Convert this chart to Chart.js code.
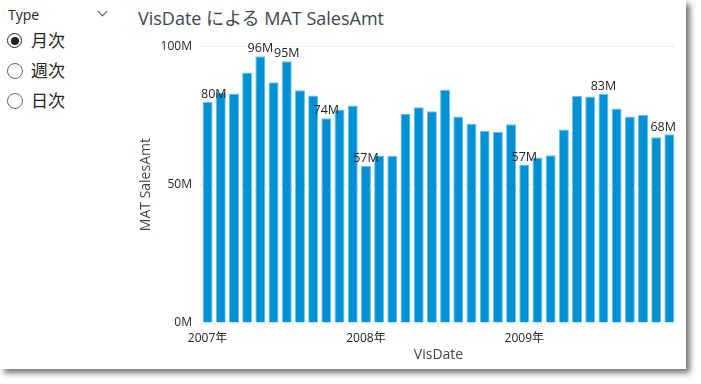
<!DOCTYPE html>
<html>
<head>
<meta charset="utf-8">
<script src="https://cdn.jsdelivr.net/npm/chart.js@4.4.1/dist/chart.umd.min.js"></script>
<style>
  body { margin: 0; background: #fff; font-family: "Open Sans", "Noto Sans CJK JP", sans-serif; }
  #card { position: absolute; left: 0; top: 0; width: 686px; height: 369px; background: #fff;
          box-shadow: 4px 4px 6px rgba(0,0,0,0.55); }
  #slicer { position: absolute; left: 8px; top: 5px; width: 110px; color: #252423; }
  #slicer .head { font-size: 14px; height: 20px; position: relative; }
  #slicer .chev { position: absolute; left: 91px; top: 3px; width: 6px; height: 6px;
                  border-right: 1.3px solid #555; border-bottom: 1.3px solid #555; transform: rotate(45deg); }
  .opt { position: relative; height: 30px; font-size: 17px; font-family: "Noto Sans CJK JP", sans-serif; }
  .opt .r { position: absolute; left: -1px; top: 8px; width: 14px; height: 14px; border: 1px solid #666;
            border-radius: 50%; background: #fff; }
  .opt .r.on { border-color: #222; border-width: 1.5px; width: 13px; height: 13px; }
  .opt .r.on::after { content: ""; position: absolute; left: 2.5px; top: 2.5px; width: 8px; height: 8px;
                      border-radius: 50%; background: #222; }
  .opt span { position: absolute; left: 23px; top: 2px; }
  #title { position: absolute; left: 138px; top: 4px; font-size: 18px; color: #3b4754;
           font-family: "Open Sans", "Noto Sans CJK JP", sans-serif; }
  #wrap { position: absolute; left: 130px; top: 30px; width: 556px; height: 336px; }
</style>
</head>
<body>
<div id="card">
  <div id="slicer">
    <div class="head">Type<div class="chev"></div></div>
    <div class="opt"><div class="r on"></div><span>月次</span></div>
    <div class="opt"><div class="r"></div><span>週次</span></div>
    <div class="opt"><div class="r"></div><span>日次</span></div>
  </div>
  <div id="title">VisDate による MAT SalesAmt</div>
  <div id="wrap"><canvas id="chart"></canvas></div>
</div>
<script>
// months 2007-01 .. 2009-12
let MONTHS = []
for (let y = 2007; y <= 2009; y++) {
    for (let m = 1; m <= 12; m++) MONTHS.push(y + '-' + (m < 10 ? '0' + m : m))
}

// MAT SalesAmt in millions
let SALES = [
    79.9, 83.3, 82.9, 90.5, 96.4, 87.0, 94.6, 84.1, 82.2, 74.0, 77.1, 78.6,
    56.7, 60.5, 60.4, 75.5, 77.9, 76.5, 84.3, 74.6, 72.0, 69.4, 69.1, 71.8,
    57.3, 59.8, 60.6, 69.9, 82.1, 81.8, 82.8, 77.5, 74.6, 75.1, 67.1, 68.2
]

// bars that carry a data label
let LABELED = [0, 4, 6, 9, 12, 24, 30, 35]

let Y_TICKS = [0, 50, 100]

let FONT = '"Open Sans", "Noto Sans CJK JP", sans-serif'

let labelPlugin = {
    id: 'barLabels',
    afterDatasetsDraw(chart) {
        let ctx = chart.ctx
        let meta = chart.getDatasetMeta(0)
        let area = chart.chartArea
        ctx.save()
        ctx.font = '12.5px ' + FONT
        ctx.fillStyle = '#252423'
        ctx.textBaseline = 'bottom'
        LABELED.forEach(function (i) {
            let bar = meta.data[i]
            let txt = Math.round(SALES[i]) + 'M'
            let w = ctx.measureText(txt).width
            let x = bar.x - w / 2
            if (x < area.left) x = area.left
            if (x + w > area.right) x = area.right - w
            ctx.fillText(txt, x, bar.y - 1)
        })
        ctx.restore()
    }
}

let CHART = document.getElementById('chart')

new Chart(CHART, {
    type: 'bar',
    data: {
        labels: MONTHS,
        datasets: [{
            label: 'MAT SalesAmt',
            data: SALES,
            backgroundColor: '#0091D5',
            borderColor: '#6CC0EA',
            borderWidth: { top: 1, left: 1, right: 1, bottom: 0 },
            barPercentage: 0.76,
            categoryPercentage: 1.0
        }]
    },
    options: {
        responsive: true,
        maintainAspectRatio: false,
        animation: false,
        layout: { padding: { top: 16, right: 10, left: 8, bottom: 3 } },
        plugins: {
            legend: { display: false },
            tooltip: { enabled: false }
        },
        scales: {
            x: {
                grid: { display: false },
                border: { display: false },
                ticks: {
                    autoSkip: false,
                    maxRotation: 0,
                    padding: 0,
                    color: '#252423',
                    font: { size: 12, family: FONT },
                    callback: function (v, i) {
                        return i % 12 === 0 ? MONTHS[i].slice(0, 4) + '年' : ''
                    }
                },
                title: {
                    display: true,
                    text: 'VisDate',
                    color: '#3b4754',
                    font: { size: 14, family: FONT },
                    padding: { top: 0, bottom: 0 }
                },
                afterFit: function (s) { s.height = 40 }
            },
            y: {
                min: 0,
                max: 100,
                afterBuildTicks: function (s) { s.ticks = Y_TICKS.map(v => ({ value: v })) },
                grid: {
                    color: '#d0d0d0',
                    tickLength: 0,
                    drawTicks: false
                },
                border: { display: false, dash: [1, 3] },
                ticks: {
                    padding: 9,
                    color: '#252423',
                    font: { size: 12, family: FONT },
                    callback: function (v) { return v + 'M' }
                },
                title: {
                    display: true,
                    text: 'MAT SalesAmt',
                    color: '#3b4754',
                    font: { size: 14, family: FONT },
                    padding: { top: 0, bottom: 0 }
                },
                afterFit: function (s) { s.width = 63 }
            }
        }
    },
    plugins: [labelPlugin]
})
</script>
</body>
</html>
